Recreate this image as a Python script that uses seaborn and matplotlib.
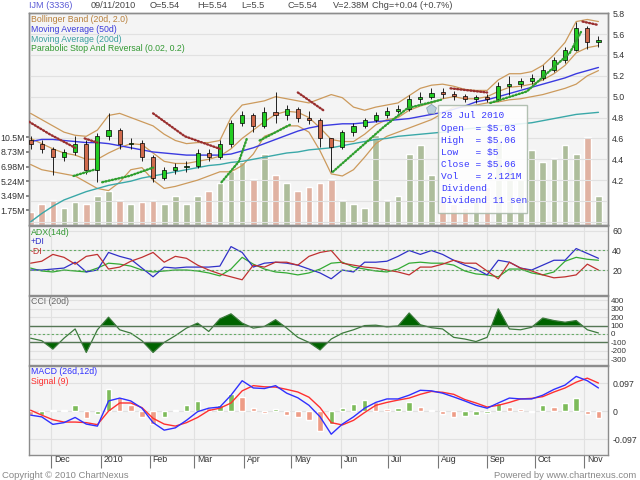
import matplotlib
matplotlib.use('Agg')
import matplotlib.pyplot as plt
import matplotlib.transforms as mtransforms
from matplotlib.patches import Rectangle
import numpy as np
import pandas as pd
import seaborn as sns

# weekly samples (Wednesdays, Nov 2009 - Nov 2010)
weeks = pd.date_range('2009-11-18', periods=52, freq='7D')

price_open = [4.58, 4.55, 4.50, 4.42, 4.47, 4.55, 4.30, 4.62, 4.68, 4.55,
              4.56, 4.42, 4.22, 4.30, 4.33, 4.34, 4.46, 4.42, 4.55, 4.75,
              4.82, 4.72, 4.85, 4.82, 4.88, 4.80, 4.78, 4.60, 4.52, 4.66,
              4.72, 4.78, 4.82, 4.86, 4.88, 4.98, 5.00, 5.04, 5.03, 5.01,
              4.98, 5.00, 4.98, 5.10, 5.12, 5.15, 5.18, 5.26, 5.35, 5.45,
              5.66, 5.52]
price_high = [4.62, 4.58, 4.52, 4.50, 4.62, 4.58, 4.65, 4.84, 4.70, 4.60,
              4.58, 4.44, 4.33, 4.36, 4.38, 4.50, 4.50, 4.58, 4.78, 4.86,
              4.84, 4.90, 5.04, 4.92, 4.90, 4.86, 4.80, 4.60, 4.68, 4.75,
              4.80, 4.85, 4.90, 4.92, 5.02, 5.04, 5.08, 5.08, 5.05, 5.03,
              5.02, 5.03, 5.14, 5.20, 5.18, 5.22, 5.30, 5.38, 5.48, 5.72,
              5.68, 5.58]
price_low = [4.50, 4.46, 4.25, 4.38, 4.44, 4.26, 4.18, 4.58, 4.50, 4.50,
             4.38, 4.18, 4.20, 4.26, 4.28, 4.32, 4.38, 4.40, 4.52, 4.72,
             4.66, 4.70, 4.75, 4.78, 4.76, 4.74, 4.52, 4.28, 4.50, 4.62,
             4.70, 4.76, 4.80, 4.84, 4.86, 4.94, 4.98, 4.99, 4.97, 4.95,
             4.94, 4.95, 4.96, 5.02, 5.08, 5.12, 5.16, 5.24, 5.32, 5.44,
             5.46, 5.48]
price_close = [4.55, 4.50, 4.42, 4.47, 4.55, 4.30, 4.62, 4.68, 4.55, 4.56,
               4.42, 4.22, 4.30, 4.33, 4.34, 4.46, 4.42, 4.55, 4.75, 4.82,
               4.72, 4.85, 4.82, 4.88, 4.80, 4.78, 4.60, 4.52, 4.66, 4.72,
               4.78, 4.82, 4.86, 4.88, 4.98, 5.00, 5.04, 5.03, 5.01, 4.98,
               5.00, 4.98, 5.10, 5.12, 5.15, 5.18, 5.26, 5.35, 5.45, 5.66,
               5.52, 5.54]
volume_m = [1.5, 2.5, 3.0, 2.0, 2.8, 2.5, 3.5, 4.0, 3.0, 2.5,
            2.8, 3.0, 2.5, 3.5, 2.5, 3.5, 4.0, 5.0, 6.5, 7.5,
            5.5, 8.5, 6.0, 5.0, 4.0, 4.5, 5.0, 5.5, 3.0, 2.5,
            2.0, 10.8, 3.0, 3.5, 8.5, 9.5, 6.0, 3.0, 2.5, 2.0,
            3.0, 4.5, 10.0, 7.0, 5.5, 9.0, 7.5, 8.0, 9.5, 8.5,
            10.5, 3.5]

bb_upper = [4.84, 4.78, 4.72, 4.66, 4.63, 4.62, 4.68, 4.82, 4.84, 4.80,
            4.76, 4.72, 4.64, 4.58, 4.55, 4.56, 4.56, 4.58, 4.80, 4.92,
            4.94, 4.96, 5.00, 4.98, 4.96, 4.94, 4.98, 5.02, 4.99, 4.90,
            4.87, 4.90, 4.92, 4.94, 5.01, 5.08, 5.11, 5.12, 5.10, 5.07,
            5.06, 5.06, 5.16, 5.22, 5.22, 5.24, 5.30, 5.40, 5.52, 5.72,
            5.74, 5.72]
bb_mid = [4.60, 4.55, 4.50, 4.46, 4.44, 4.40, 4.40, 4.46, 4.51, 4.55,
          4.54, 4.46, 4.38, 4.36, 4.36, 4.38, 4.40, 4.43, 4.50, 4.60,
          4.68, 4.76, 4.83, 4.86, 4.85, 4.80, 4.70, 4.59, 4.57, 4.57,
          4.64, 4.73, 4.78, 4.80, 4.87, 4.91, 4.94, 4.98, 5.00, 4.98,
          4.98, 5.00, 5.05, 5.09, 5.10, 5.12, 5.16, 5.22, 5.30, 5.42,
          5.47, 5.49]
bb_lower = [4.35, 4.30, 4.28, 4.26, 4.24, 4.18, 4.12, 4.10, 4.18, 4.30,
            4.32, 4.20, 4.12, 4.14, 4.17, 4.20, 4.24, 4.28, 4.28, 4.34,
            4.45, 4.62, 4.66, 4.72, 4.72, 4.66, 4.48, 4.26, 4.24, 4.30,
            4.42, 4.55, 4.62, 4.66, 4.70, 4.74, 4.78, 4.84, 4.90, 4.90,
            4.92, 4.94, 4.95, 4.97, 4.98, 5.00, 5.02, 5.05, 5.08, 5.12,
            5.20, 5.25]
ma50 = [4.57, 4.59, 4.59, 4.58, 4.57, 4.56, 4.56, 4.55, 4.53, 4.51,
        4.49, 4.47, 4.46, 4.45, 4.44, 4.44, 4.44, 4.44, 4.45, 4.48,
        4.51, 4.55, 4.59, 4.63, 4.67, 4.70, 4.72, 4.73, 4.74, 4.74,
        4.75, 4.76, 4.77, 4.78, 4.79, 4.81, 4.83, 4.85, 4.88, 4.91,
        4.95, 4.97, 5.00, 5.03, 5.06, 5.09, 5.12, 5.15, 5.18, 5.22,
        5.25, 5.28]
ma200 = [3.80, 3.88, 3.95, 4.01, 4.05, 4.09, 4.12, 4.15, 4.17, 4.19,
         4.22, 4.24, 4.26, 4.28, 4.30, 4.32, 4.34, 4.35, 4.37, 4.38,
         4.40, 4.42, 4.44, 4.46, 4.47, 4.49, 4.50, 4.51, 4.53, 4.55,
         4.57, 4.59, 4.60, 4.62, 4.63, 4.64, 4.65, 4.66, 4.67, 4.69,
         4.70, 4.71, 4.72, 4.73, 4.74, 4.75, 4.77, 4.79, 4.81, 4.83,
         4.84, 4.85]

# parabolic SAR runs (date, value): below price (green) and above price (red)
sar_below = [
    [('2009-12-15', 4.24), ('2009-12-28', 4.30)],
    [('2010-01-02', 4.18), ('2010-01-19', 4.24), ('2010-02-03', 4.32)],
    [('2010-03-18', 4.18), ('2010-03-29', 4.38), ('2010-04-03', 4.60)],
    [('2010-04-11', 4.58), ('2010-04-30', 4.73)],
    [('2010-05-27', 4.28), ('2010-06-28', 4.71), ('2010-07-13', 4.89), ('2010-08-03', 4.97)],
    [('2010-09-03', 4.94), ('2010-09-26', 5.05), ('2010-10-23', 5.42), ('2010-10-30', 5.62)],
]
sar_above = [
    [('2009-11-17', 4.76), ('2009-11-30', 4.64), ('2009-12-16', 4.51)],
    [('2009-12-22', 4.60), ('2009-12-30', 4.56)],
    [('2010-02-03', 4.84), ('2010-02-23', 4.62), ('2010-03-17', 4.50)],
    [('2010-05-05', 5.04), ('2010-05-21', 4.87)],
    [('2010-08-09', 5.08), ('2010-09-01', 5.04)],
    [('2010-10-31', 5.72), ('2010-11-09', 5.69)],
]

plus_di = [20, 20, 21, 22, 28, 18, 20, 38, 34, 31,
           22, 13, 23, 22, 23, 23, 23, 24, 44, 38,
           23, 27, 28, 27, 25, 21, 17, 11, 20, 18,
           28, 28, 29, 34, 40, 36, 40, 36, 30, 25,
           21, 15, 30, 28, 22, 20, 25, 30, 30, 42,
           37, 32]
minus_di = [27, 29, 36, 33, 26, 34, 36, 21, 23, 29,
            33, 38, 28, 34, 32, 25, 20, 16, 13, 10,
            25, 23, 28, 28, 25, 34, 38, 40, 27, 25,
            23, 22, 20, 18, 15, 23, 23, 26, 30, 27,
            27, 19, 11, 28, 22, 19, 15, 12, 13, 15,
            26, 20]
adx = [22, 19, 18, 20, 19, 18, 22, 27, 26, 24,
       20, 18, 19, 20, 20, 19, 17, 14, 21, 33,
       26, 21, 18, 17, 15, 17, 21, 27, 28, 23,
       21, 19, 18, 21, 27, 28, 27, 27, 25, 19,
       16, 15, 13, 21, 21, 17, 15, 18, 29, 33,
       31, 30]
cci = [-50, -80, -180, -50, 60, -220, 50, 200, 50, 10,
       -80, -220, -100, -20, 70, 130, 30, 180, 240, 130,
       70, 90, 170, 70, -40, -100, -190, -60, 10, 50,
       100, 105, 85, 95, 250, 110, 75, 60, -40, -60,
       -90, -40, 300, 60, 50, 80, 190, 160, 140, 160,
       50, 12]
macd = [-0.014, -0.02, -0.046, -0.04, -0.022, -0.045, -0.052, 0.035, 0.045, 0.035,
        0.01, -0.04, -0.066, -0.058, -0.032, -0.002, 0.01, 0.014, 0.055, 0.105,
        0.08, 0.078, 0.088, 0.062, 0.046, 0.02, -0.02, -0.08, -0.045, -0.02,
        0.01, 0.03, 0.042, 0.042, 0.055, 0.072, 0.07, 0.062, 0.049, 0.035,
        0.02, 0.01, 0.028, 0.045, 0.042, 0.042, 0.055, 0.075, 0.09, 0.12,
        0.105, 0.08]
macd_signal = [0.003, -0.014, -0.03, -0.038, -0.038, -0.04, -0.047, 0.0, 0.028, 0.028,
               0.012, -0.025, -0.045, -0.052, -0.04, -0.022, 0.002, 0.01, 0.028, 0.07,
               0.088, 0.084, 0.083, 0.075, 0.066, 0.048, 0.012, -0.04, -0.048, -0.032,
               -0.005, 0.02, 0.03, 0.038, 0.045, 0.058, 0.068, 0.065, 0.058, 0.04,
               0.028, 0.014, 0.02, 0.03, 0.042, 0.044, 0.05, 0.066, 0.08, 0.1,
               0.114, 0.097]
macd_hist = [-0.015, -0.012, 0.004, 0.005, 0.02, -0.025, -0.01, 0.075, 0.05, 0.02,
             -0.02, -0.045, -0.02, 0.005, 0.02, 0.035, 0.012, 0.02, 0.06, 0.05,
             0.01, -0.008, 0.008, -0.012, -0.02, -0.03, -0.07, -0.045, 0.01, 0.025,
             0.038, 0.03, 0.008, 0.01, 0.03, 0.015, 0.005, -0.01, -0.02, -0.018,
             -0.012, -0.005, 0.028, 0.015, 0.006, -0.002, 0.02, 0.015, 0.028, 0.045,
             -0.01, -0.024]

# axis ticks
price_ticks = [3.8, 4.0, 4.2, 4.4, 4.6, 4.8, 5.0, 5.2, 5.4, 5.6, 5.8]
vol_ticks = [1.745, 3.49, 5.235, 6.98, 8.725, 10.47]
vol_labels = ['1.75M', '3.49M', '5.24M', '6.98M', '8.73M', '10.5M']
cci_ticks = [-300, -200, -100, 0, 100, 200, 300, 400]
macd_ticks = [-0.097, 0, 0.097]

# header / tooltip values
stock = 'IJM (3336)'
last_date = '09/11/2010'
last_quote = ['O=5.54', 'H=5.54', 'L=5.5', 'C=5.54', 'V=2.38M', 'Chg=+0.04 (+0.7%)']
div_date = '2010-07-28'
tip_date = '28 Jul 2010'
tip_open, tip_high, tip_low, tip_close = 5.03, 5.06, 5.0, 5.06
tip_vol = '2.121M'
tip_div = 'Dividend 11 sen'

df = pd.DataFrame({'date': weeks, 'open': price_open, 'high': price_high,
                   'low': price_low, 'close': price_close, 'volume': volume_m})
up = df['close'] >= df['open']

sns.set_theme(style='whitegrid', rc={
    'axes.facecolor': '#f4f4f4', 'axes.edgecolor': '#8c8c8c', 'axes.linewidth': 1.0,
    'grid.color': '#e1e1e1', 'grid.linewidth': 0.8,
    'xtick.labelsize': 6.3, 'ytick.labelsize': 6.3,
    'xtick.color': '#333333', 'ytick.color': '#333333',
    'axes.unicode_minus': False})
plt.rcParams['font.family'] = ['Liberation Sans', 'DejaVu Sans']

fig = plt.figure(figsize=(6.4, 4.8), dpi=100)
W, H = 640.0, 480.0


def rect(x0, y0, x1, y1):
    return [x0 / W, 1 - y1 / H, (x1 - x0) / W, (y1 - y0) / H]


def ftext(x, y, s, **kw):
    kw.setdefault('fontsize', 6.3)
    kw.setdefault('va', 'center')
    fig.text(x / W, 1 - y / H, s, **kw)


ax_vol = fig.add_axes(rect(29, 13, 608, 225))
ax = ax_vol.twinx()
ax_adx = fig.add_axes(rect(29, 226, 608, 295), sharex=ax_vol)
ax_cci = fig.add_axes(rect(29, 296, 608, 365), sharex=ax_vol)
ax_macd = fig.add_axes(rect(29, 366, 608, 455), sharex=ax_vol)

# ---- volume (left scale) ----
ax_vol.bar(df['date'], df['volume'], width=4.2,
           color=np.where(up, '#adbd9b', '#e0b2a2'), zorder=2)
ax_vol.set_ylim(0, 25.3)
ax_vol.set_yticks(vol_ticks)
ax_vol.set_yticklabels(vol_labels)
ax_vol.grid(False)
ax_vol.tick_params(axis='y', length=2, pad=1, color='#777777')

# ---- candles, bands, averages, SAR (right scale) ----
ax.vlines(df['date'], df['low'], df['high'], color='black', lw=0.6, zorder=3)
body = (df['close'] - df['open']).abs().clip(lower=0.008)
ax.bar(df['date'], body, bottom=np.minimum(df['open'], df['close']), width=2.6,
       color=np.where(up, '#22cc22', '#d06a4c'), edgecolor='black', lw=0.5, zorder=4)

for band in (bb_upper, bb_mid, bb_lower):
    sns.lineplot(x=weeks, y=band, ax=ax, color='#cc9a5c', lw=0.9)
sns.lineplot(x=weeks, y=ma50, ax=ax, color='#3a3ae0', lw=1.0)
sns.lineplot(x=weeks, y=ma200, ax=ax, color='#3aa8a8', lw=1.0)

for runs, col in ((sar_below, '#2f9f2f'), (sar_above, '#992f2f')):
    for run in runs:
        xs = pd.to_datetime([d for d, _ in run])
        ys = [v for _, v in run]
        ax.plot(xs, ys, color=col, lw=1.7, linestyle=(0, (0.5, 0.9)),
                dash_capstyle='round', zorder=5)

ax.scatter([pd.Timestamp(div_date)], [4.88], marker='p', s=55,
           color='#b9cfdc', edgecolor='#8fa3b3', lw=0.6, zorder=6)

ax.set_ylim(3.77, 5.802)
ax.set_yticks(price_ticks)
ax.set_yticklabels(['' if t < 4.1 else f'{t:.1f}' for t in price_ticks])
ax.grid(True, axis='both')
ax.tick_params(axis='y', length=0, pad=3)

# ---- ADX ----
sns.lineplot(x=weeks, y=adx, ax=ax_adx, color='#33aa33', lw=0.9)
sns.lineplot(x=weeks, y=plus_di, ax=ax_adx, color='#3030c8', lw=0.9)
sns.lineplot(x=weeks, y=minus_di, ax=ax_adx, color='#c03030', lw=0.9)
for lvl in (20, 40):
    ax_adx.axhline(lvl, color='#66aa66', lw=0.8, linestyle=(0, (2, 2)))
ax_adx.set_ylim(-5.6, 65.1)
ax_adx.set_yticks([20, 40, 60])

# ---- CCI ----
cci_arr = np.array(cci, dtype=float)
ax_cci.fill_between(weeks, cci_arr, 100, where=cci_arr > 100, interpolate=True,
                    color='#006400', lw=0)
ax_cci.fill_between(weeks, cci_arr, -100, where=cci_arr < -100, interpolate=True,
                    color='#006400', lw=0)
sns.lineplot(x=weeks, y=cci, ax=ax_cci, color='#3c7a3c', lw=0.9)
ax_cci.axhline(100, color='#557755', lw=1.0)
ax_cci.axhline(-100, color='#557755', lw=1.0)
ax_cci.axhline(0, color='#66aa66', lw=0.8, linestyle=(0, (2, 2)))
ax_cci.set_ylim(-369, 452)
ax_cci.set_yticks(cci_ticks)

# ---- MACD ----
hist = np.array(macd_hist)
rising = np.r_[False, np.diff(hist) >= 0]
ax_macd.bar(weeks, hist, width=3.4, color=np.where(rising, '#7dbb5a', '#ee9c86'), zorder=2)
sns.lineplot(x=weeks, y=macd_signal, ax=ax_macd, color='#ff3030', lw=1.0)
sns.lineplot(x=weeks, y=macd, ax=ax_macd, color='#3030ff', lw=1.0)
ax_macd.set_ylim(-0.152, 0.156)
ax_macd.set_yticks(macd_ticks)
ax_macd.set_yticklabels(['-0.097', '0', '0.097'])

for a in (ax_adx, ax_cci, ax_macd):
    a.yaxis.tick_right()
    a.tick_params(axis='y', length=0, pad=3)
ax_cci.tick_params(axis='y', labelsize=5.8, pad=2)

# ---- shared month axis ----
months = pd.date_range('2009-12-01', '2010-11-01', freq='MS')
month_labels = ['2010' if m.month == 1 else m.strftime('%b') for m in months]
ax_macd.set_xlim(pd.Timestamp('2009-11-17'), pd.Timestamp('2010-11-16'))
ax_macd.set_xticks(months)
ax_macd.set_xticklabels(month_labels)
for a in (ax_vol, ax, ax_adx, ax_cci):
    a.tick_params(axis='x', length=0, labelbottom=False)
ax_macd.tick_params(axis='x', length=9, width=0.8, color='#777777',
                    direction='out', pad=-9, bottom=True)
shift = mtransforms.ScaledTranslation(2 / 72, 0, fig.dpi_scale_trans)
for lbl in ax_macd.get_xticklabels():
    lbl.set_ha('left')
    lbl.set_transform(lbl.get_transform() + shift)

for a in (ax_vol, ax, ax_adx, ax_cci, ax_macd):
    a.set_xlabel('')
    a.set_ylabel('')
    for sp in a.spines.values():
        sp.set_color('#8c8c8c')

# ---- header and panel captions ----
ftext(29, 6, stock, color='#5b5bd6', fontsize=6.6)
ftext(91, 6, last_date, color='#444444', fontsize=6.6)
for xq, q in zip([150, 197, 241, 288, 333, 372], last_quote):
    ftext(xq, 6, q, color='#444444', fontsize=6.6)

ftext(31, 20, 'Bollinger Band (20d, 2.0)', color='#b8803c')
ftext(31, 29.5, 'Moving Average (50d)', color='#3b3bdb')
ftext(31, 39, 'Moving Average (200d)', color='#3a9f9f')
ftext(31, 48.5, 'Parabolic Stop And Reversal (0.02, 0.2)', color='#339933')
ftext(31, 232, 'ADX(14d)', color='#339933')
ftext(31, 241.5, '+DI', color='#3030c8')
ftext(31, 251, '-DI', color='#c03030')
ftext(31, 302, 'CCI (20d)', color='#666666')
ftext(31, 372, 'MACD (26d,12d)', color='#3030ff')
ftext(31, 382, 'Signal (9)', color='#ff3030')

ftext(2, 475, 'Copyright \u00a9 2010 ChartNexus', color='#888888', fontsize=6.8)
ftext(636, 475, 'Powered by www.chartnexus.com', color='#888888', ha='right', fontsize=6.8)

# ---- tooltip ----
fig.patches.append(Rectangle((438 / W, 1 - 213 / H), 89 / W, 108 / H,
                             transform=fig.transFigure, facecolor='white', alpha=0.88,
                             edgecolor='#a9b9a9', lw=1.0, zorder=10))
tip_lines = [tip_date,
             f'Open  = ${tip_open:g}', f'High  = ${tip_high:g}',
             f'Low   = ${tip_low:g}', f'Close = ${tip_close:g}',
             f'Vol   = {tip_vol}', 'Dividend', tip_div]
for k, s in enumerate(tip_lines):
    ftext(441, 116 + 12.1 * k, s, color='#3a3aff', family=['Liberation Mono', 'DejaVu Sans Mono'],
          fontsize=6.8, parse_math=False, zorder=11)

fig.savefig('out.png', dpi=100)
